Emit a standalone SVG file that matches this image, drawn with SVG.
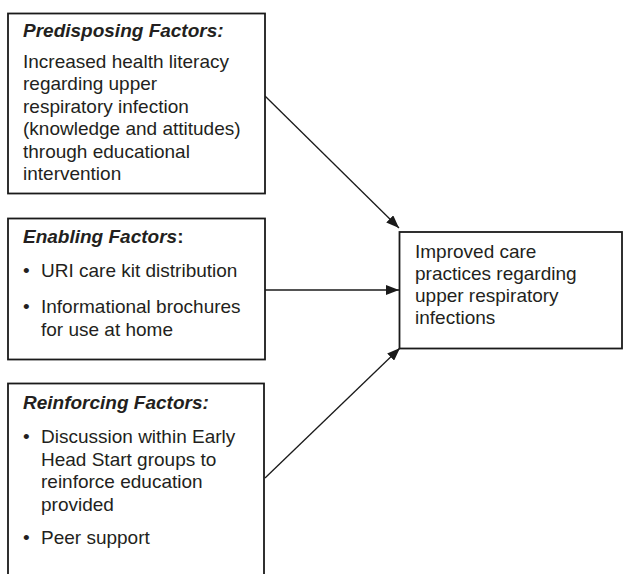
<svg xmlns="http://www.w3.org/2000/svg" width="623" height="574" viewBox="0 0 623 574">
<defs>
<style>
.box{fill:#fff;stroke:#1a1a1a;stroke-width:1.8}
.t{font-family:"Liberation Sans",Arial,sans-serif;font-size:19px;fill:#231f20}
.h{font-weight:bold;font-style:italic}
.b{font-weight:bold}
.c{stroke:#1a1a1a;stroke-width:1.3;fill:none}
</style>
<marker id="ah" markerUnits="userSpaceOnUse" markerWidth="14" markerHeight="10" refX="13" refY="5" orient="auto">
<path d="M0,0 L13,5 L0,10 Z" fill="#1a1a1a"/>
</marker>
</defs>
<rect width="623" height="574" fill="#fff"/>
<g id="connectors">
<line class="c" x1="265" y1="96" x2="399" y2="228" marker-end="url(#ah)"/>
<line class="c" x1="265" y1="290" x2="399" y2="290" marker-end="url(#ah)"/>
<line class="c" x1="265" y1="478" x2="400" y2="348" marker-end="url(#ah)"/>
</g>
<g id="predisposing">
<rect class="box" x="8" y="13.5" width="257" height="180"/>
<text class="t" x="23" y="37"><tspan class="h">Predisposing Factors:</tspan></text>
<text class="t" x="23" y="67.5">Increased health literacy</text>
<text class="t" x="23" y="90">regarding upper</text>
<text class="t" x="23" y="112.5">respiratory infection</text>
<text class="t" x="23" y="135">(knowledge and attitudes)</text>
<text class="t" x="23" y="157.5">through educational</text>
<text class="t" x="23" y="180">intervention</text>
</g>
<g id="enabling">
<rect class="box" x="8" y="218.5" width="257" height="141"/>
<text class="t" x="23" y="243"><tspan class="h">Enabling Factors</tspan><tspan class="b">:</tspan></text>
<text class="t" x="23" y="277">•</text>
<text class="t" x="41" y="277">URI care kit distribution</text>
<text class="t" x="23" y="313">•</text>
<text class="t" x="41" y="313">Informational brochures</text>
<text class="t" x="41" y="335.5">for use at home</text>
</g>
<g id="reinforcing">
<rect class="box" x="8" y="383.5" width="256" height="200"/>
<text class="t" x="23" y="409"><tspan class="h">Reinforcing Factors:</tspan></text>
<text class="t" x="23" y="443">•</text>
<text class="t" x="41" y="443">Discussion within Early</text>
<text class="t" x="41" y="465.5">Head Start groups to</text>
<text class="t" x="41" y="488">reinforce education</text>
<text class="t" x="41" y="510.5">provided</text>
<text class="t" x="23" y="544">•</text>
<text class="t" x="41" y="544">Peer support</text>
</g>
<g id="outcome">
<rect class="box" x="399.5" y="232" width="222.5" height="116.5"/>
<text class="t" x="415" y="258">Improved care</text>
<text class="t" x="415" y="280">practices regarding</text>
<text class="t" x="415" y="302">upper respiratory</text>
<text class="t" x="415" y="324">infections</text>
</g>
</svg>
